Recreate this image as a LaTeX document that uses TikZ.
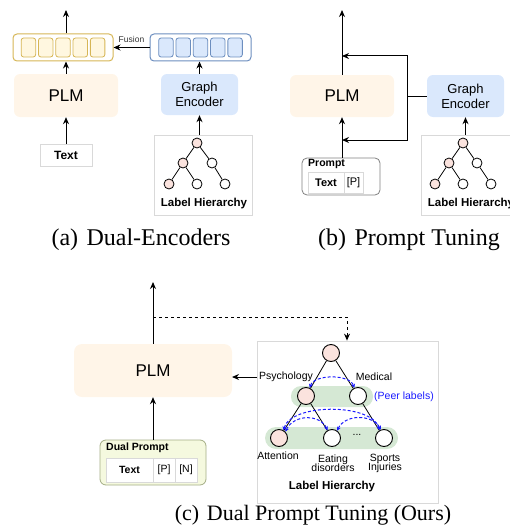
\documentclass[tikz,border=0pt]{standalone}
\usepackage{fontspec}
\setmainfont{Liberation Sans}
\newfontfamily\capfont{Liberation Serif}
\usetikzlibrary{arrows.meta}
\definecolor{plmfill}{HTML}{FFF5E8}
\definecolor{gefill}{HTML}{DAE8FC}
\definecolor{geline}{HTML}{6C8EBF}
\definecolor{yline}{HTML}{D6B656}
\definecolor{yfill}{HTML}{FFF2CC}
\definecolor{pinkfill}{HTML}{FBE3DE}
\definecolor{hline}{HTML}{D9D9D9}
\definecolor{greenband}{HTML}{D5E8D4}
\definecolor{dpfill}{HTML}{F5F9DF}
\definecolor{dpline}{HTML}{A3AD85}
\definecolor{peerblue}{HTML}{1A1AFF}
\tikzset{
  arr/.style={-{Stealth[length=7pt,width=6pt]}, line width=1pt},
  plm/.style={fill=plmfill, rounded corners=6pt, inner sep=0pt},
  ge/.style={fill=gefill, rounded corners=6pt, inner sep=0pt, align=center, font=\fontsize{13}{15}\selectfont},
  hbox/.style={draw=hline, line width=0.8pt, inner sep=0pt},
  tn/.style={circle, draw, line width=0.8pt, minimum size=10pt, inner sep=0pt, fill=white},
  tp/.style={tn, fill=pinkfill},
  bn/.style={circle, draw, line width=0.9pt, minimum size=17pt, inner sep=0pt, fill=white},
  bp/.style={bn, fill=pinkfill},
  tedge/.style={line width=0.8pt},
  ycell/.style={draw=yline, fill=yfill!60, rounded corners=2.5pt, minimum width=14.5pt, minimum height=19pt, inner sep=0pt, line width=0.8pt},
  bcell/.style={draw=geline, fill=gefill, rounded corners=2.5pt, minimum width=14.5pt, minimum height=19pt, inner sep=0pt, line width=0.8pt},
  pcell/.style={draw=hline, fill=white, minimum height=21pt, inner sep=0pt, line width=0.6pt, font=\fontsize{11}{13}\selectfont},
  hlab/.style={font=\bfseries\fontsize{11.5}{13}\selectfont},
  tlab/.style={font=\fontsize{10.5}{11}\selectfont, align=center},
  captext/.style={font=\capfont\fontsize{24}{26}\selectfont, anchor=base},
  peer/.style={draw=peerblue, dash pattern=on 3pt off 2pt, line width=1pt, {Stealth[length=4pt,width=4pt]}-{Stealth[length=4pt,width=4pt]}},
}
\begin{document}
\begin{tikzpicture}[x=1pt,y=-1pt]
\useasboundingbox (0,0) rectangle (510,527);
\clip (0,0) rectangle (510,527);

% ---------------- (a) Dual-Encoders ----------------
\node[draw=yline, fill=white, line width=1pt, rounded corners=4pt, minimum width=100pt, minimum height=27pt, inner sep=0pt] (yb) at (63,47.5) {};
\foreach \i in {1,...,5} \node[ycell] (yc\i) at ({63+(\i-3)*17.3},47.5) {};
\node[draw=geline, fill=white, line width=1pt, rounded corners=4pt, minimum width=101pt, minimum height=27pt, inner sep=0pt] (bb) at (200.5,47.5) {};
\foreach \i in {1,...,5} \node[bcell] (bc\i) at ({200.5+(\i-3)*17.3},47.5) {};
\draw[arr] (bb.west) -- (yb.east) node[midway, above=1pt, font=\fontsize{8.5}{9}\selectfont, text=black!80] (fus) {Fusion};

\node[plm, minimum width=104pt, minimum height=43pt, font=\fontsize{17}{19}\selectfont] (plmA) at (66,95.5) {PLM};
\node[hbox, minimum width=52pt, minimum height=22pt, font=\bfseries\fontsize{12}{14}\selectfont] (txtA) at (66,155) {Text};
\coordinate (outA) at (66,10);
\draw[arr] (txtA.north) -- (plmA.south);
\draw[arr] (plmA.north) -- (plmA.north |- yb.south);
\draw[arr] (plmA.north |- yb.north) -- (outA);

\node[ge, minimum width=77pt, minimum height=41pt] (geA) at (199.5,94.5) {Graph\\Encoder};
\draw[arr] (geA.north) -- (geA.north |- bb.south);
\node[hbox, minimum width=98pt, minimum height=80pt] (hA) at (203,175) {};
\draw[arr] (geA.south |- hA.north) -- (geA.south);
\node[tp] (a0) at (197,143) {};
\node[tp] (a1) at (183,163) {};
\node[tn] (a2) at (212,163) {};
\node[tp] (a3) at (169,184) {};
\node[tn] (a4) at (197,184) {};
\node[tn] (a5) at (225,184) {};
\draw[tedge] (a0) -- (a1); \draw[tedge] (a0) -- (a2);
\draw[tedge] (a1) -- (a3); \draw[tedge] (a1) -- (a4);
\draw[tedge] (a2) -- (a5);
\node[hlab] (hlA) at (204,204) {Label Hierarchy};
\node[captext] (capA) at (141,245) {(a)\hspace{0.35em}Dual-Encoders};

% ---------------- (b) Prompt Tuning ----------------
\node[plm, minimum width=104pt, minimum height=42pt, font=\fontsize{17}{19}\selectfont] (plmB) at (342,96) {PLM};
\node[ge, minimum width=77pt, minimum height=42pt] (geB) at (465.5,96) {Graph\\Encoder};
\node[draw=black!50, fill=white, line width=0.8pt, rounded corners=5pt, minimum width=78pt, minimum height=37pt, inner sep=0pt] (pB) at (341,176.5) {};
\node[anchor=west, font=\bfseries\fontsize{10.5}{12}\selectfont, inner sep=0pt] (pBl) at (308,164) {Prompt};
\node[pcell, minimum width=36pt, font=\bfseries\fontsize{11}{13}\selectfont] (pBt) at (326,182.5) {Text};
\node[pcell, minimum width=19pt] (pBp) at (353.5,182.5) {[P]};
\coordinate (outB) at (342,10);
\coordinate (jB) at (407,96);
\coordinate (jBt) at (407,56);
\coordinate (jBb) at (407,140);
\coordinate (eBt) at (342,56);
\coordinate (eBb) at (342,140);
\draw[arr] (plmB.south |- pB.north) -- (plmB.south);
\draw[arr] (plmB.north) -- (outB);
\draw[line width=1pt] (geB.west) -- (jB);
\draw[arr] (jB) -- (jBt) -- (eBt);
\draw[arr] (jB) -- (jBb) -- (eBb);

\node[hbox, minimum width=98pt, minimum height=80pt] (hB) at (470,175) {};
\draw[arr] (geB.south |- hB.north) -- (geB.south);
\node[tp] (b0) at (463,143) {};
\node[tp] (b1) at (449,163) {};
\node[tn] (b2) at (477,163) {};
\node[tp] (b3) at (435,184) {};
\node[tn] (b4) at (463,184) {};
\node[tn] (b5) at (491,184) {};
\draw[tedge] (b0) -- (b1); \draw[tedge] (b0) -- (b2);
\draw[tedge] (b1) -- (b3); \draw[tedge] (b1) -- (b4);
\draw[tedge] (b2) -- (b5);
\node[hlab] (hlB) at (471,204) {Label Hierarchy};
\node[captext] (capB) at (409,245) {(b)\hspace{0.35em}Prompt Tuning};

% ---------------- (c) Dual Prompt Tuning ----------------
\node[plm, rounded corners=8pt, minimum width=158pt, minimum height=53pt, font=\fontsize{17}{19}\selectfont] (plmC) at (153,370.5) {PLM};
\node[draw=dpline, fill=dpfill, line width=0.8pt, rounded corners=6pt, minimum width=106pt, minimum height=45pt, inner sep=0pt] (dp) at (153,462.5) {};
\node[anchor=west, font=\bfseries\fontsize{10.5}{12}\selectfont, inner sep=0pt] (dpl) at (106,447.5) {Dual Prompt};
\node[pcell, minimum width=47pt, minimum height=24pt, font=\bfseries\fontsize{10.5}{12}\selectfont] (dpt) at (129.5,470) {Text};
\node[pcell, minimum width=22pt, minimum height=24pt, font=\fontsize{10.5}{12}\selectfont] (dpp) at (164,470) {[P]};
\node[pcell, minimum width=22pt, minimum height=24pt, font=\fontsize{10.5}{12}\selectfont] (dpn) at (186,470) {[N]};
\draw[arr] (dp.north) -- (plmC.south);
\coordinate (outC) at (153,282);
\draw[arr] (plmC.north) -- (outC);

\node[hbox, minimum width=181pt, minimum height=162pt] (hC) at (347.5,422) {};
\coordinate (dS) at (153,317);
\coordinate (dC) at (347,317);
\draw[arr, dashed] (dS) -- (dC) -- (dC |- hC.north);
\coordinate (hCw) at (257,377);
\coordinate (pCe) at (232,377);
\draw[arr] (hCw) -- (pCe);

\node[fill=greenband, rounded corners=10pt, minimum width=82pt, minimum height=21pt, inner sep=0pt] (band2) at (332,396.5) {};
\node[fill=greenband, rounded corners=11pt, minimum width=133pt, minimum height=22pt, inner sep=0pt] (band3) at (331.5,438) {};

\node[bp] (c0) at (331,353) {};
\node[bp] (psy) at (306,396) {};
\node[bn] (med) at (358,396) {};
\node[bp] (att) at (279,438) {};
\node[bn] (eat) at (332,438) {};
\node[bn] (spo) at (384,438) {};
\draw[tedge] (c0) -- (psy); \draw[tedge] (c0) -- (med);
\draw[tedge] (psy) -- (att); \draw[tedge] (psy) -- (eat);
\draw[tedge] (med) -- (spo);

\draw[peer] (psy.65) .. controls (314,374) and (350,374) .. (med.115);
\draw[peer] (att.60) .. controls (291,403) and (372,403) .. (spo.120);
\draw[peer] (att.45) .. controls (294,414) and (320,414) .. (eat.120);
\draw[peer] (eat.55) .. controls (345,414) and (372,414) .. (spo.110);

\node[tlab] (lpsy) at (286,377) {Psychology};
\node[tlab] (lmed) at (374,377) {Medical};
\node[tlab, text=peerblue] (lpeer) at (404,397) {(Peer labels)};
\node[tlab] (latt) at (278,456) {Attention};
\node[tlab] (leat) at (333,463) {Eating\\[-2pt]disorders};
\node[tlab] (lspo) at (385,463) {Sports\\[-2pt]Injuries};
\node[tlab] (dots) at (357,435) {...};
\node[hlab] (hlC) at (332,487) {Label Hierarchy};
\node[captext, font=\capfont\fontsize{22}{24}\selectfont] (capC) at (313,520) {(c)\hspace{0.35em}Dual Prompt Tuning (Ours)};
\end{tikzpicture}
\end{document}
